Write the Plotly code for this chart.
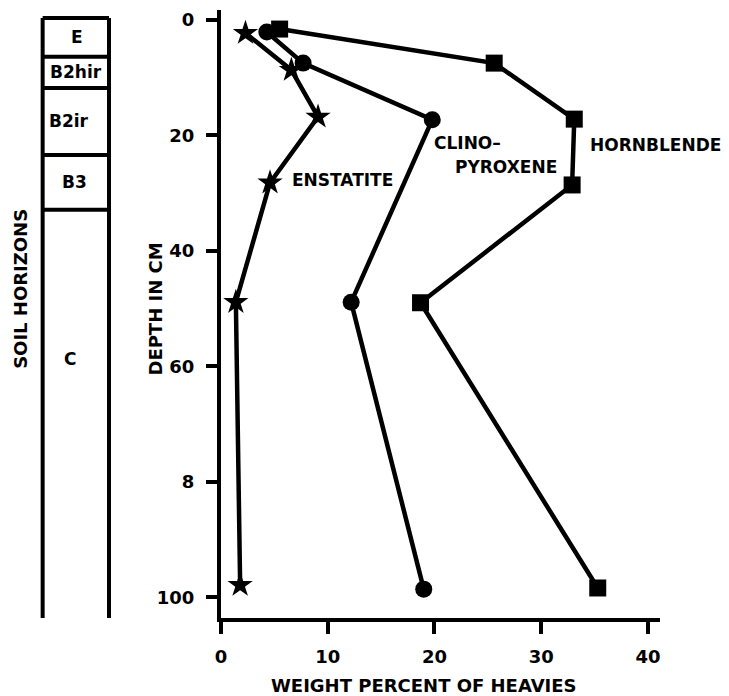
import plotly.graph_objects as go

# ---- data ----
enst_pct = [2.3, 6.6, 9.1, 4.6, 1.4, 1.8]
enst_depth = [2.3, 8.7, 16.8, 28.2, 48.9, 97.9]

clino_pct = [4.3, 7.7, 19.8, 12.2, 19.0]
clino_depth = [2.1, 7.5, 17.3, 48.9, 98.6]

horn_pct = [5.5, 25.6, 33.1, 32.9, 18.7, 35.3]
horn_depth = [1.6, 7.5, 17.2, 28.6, 49.0, 98.4]

x_ticks = [0, 10, 20, 30, 40]
y_ticks = [0, 20, 40, 60, 80, 100]
y_ticktext = ["0", "20", "40", "60", "8", "100"]

horizons = ["E", "B2hir", "B2ir", "B3", "C"]
horizon_top = [-0.3, 6.4, 11.8, 23.4, 32.9]
horizon_bottom = 104.0

FONT = "DejaVu Sans"
W, H = 729, 696
ML, MR, MT, MB = 0, 0, 10, 78
X_DOM = [217 / W, 660 / W]

fig = go.Figure()

line_w = 4.5
fig.add_trace(go.Scatter(
    x=horn_pct, y=horn_depth, mode="lines+markers", name="Hornblende",
    line=dict(color="black", width=line_w),
    marker=dict(symbol="square", size=17, color="black"),
    cliponaxis=False))
fig.add_trace(go.Scatter(
    x=clino_pct, y=clino_depth, mode="lines+markers", name="Clinopyroxene",
    line=dict(color="black", width=line_w),
    marker=dict(symbol="circle", size=17, color="black"),
    cliponaxis=False))
fig.add_trace(go.Scatter(
    x=enst_pct, y=enst_depth, mode="lines+markers", name="Enstatite",
    line=dict(color="black", width=line_w),
    marker=dict(symbol="star", size=19, color="black", line=dict(color="white", width=0)),
    cliponaxis=False))

fig.update_layout(
    width=W, height=H,
    margin=dict(l=ML, r=MR, t=MT, b=MB),
    paper_bgcolor="white", plot_bgcolor="white",
    showlegend=False,
    font=dict(family=FONT, size=18, color="black"),
    xaxis=dict(
        domain=X_DOM, range=[0, 41.1],
        tickvals=x_ticks, ticktext=[str(v) for v in x_ticks],
        ticks="outside", ticklen=12, tickwidth=4, tickcolor="black",
        showline=True, linewidth=4, linecolor="black",
        showgrid=False, zeroline=False,
        tickfont=dict(family=FONT, size=18, color="black", weight="bold"),
        ticklabelstandoff=7,
    ),
    yaxis=dict(
        range=[103.6, -1.7],
        tickvals=y_ticks, ticktext=y_ticktext,
        ticks="outside", ticklen=11, tickwidth=4, tickcolor="black",
        showline=True, linewidth=4, linecolor="black",
        showgrid=False, zeroline=False,
        tickfont=dict(family=FONT, size=18, color="black", weight="bold"),
        ticklabelstandoff=8,
    ),
)

bold = dict(family=FONT, size=18, color="black", weight="bold")
lab = dict(family=FONT, size=17, color="black", weight="bold")

# series labels
fig.add_annotation(x=6.5, y=27.7, text="ENSTATITE", showarrow=False,
                   xanchor="left", yanchor="middle", font=lab)
fig.add_annotation(x=19.8, y=21.3, text="CLINO–", showarrow=False,
                   xanchor="left", yanchor="middle", font=lab)
fig.add_annotation(x=31.7, y=25.5, text="PYROXENE", showarrow=False,
                   xanchor="right", yanchor="middle", font=lab)
fig.add_annotation(x=34.4, y=21.7, text="HORNBLENDE", showarrow=False,
                   xanchor="left", yanchor="middle", font=lab)

# axis titles
fig.add_annotation(xref="paper", yref="paper", x=422.5 / W, y=(618 - 685) / 608,
                   text="WEIGHT PERCENT OF HEAVIES", showarrow=False,
                   xanchor="center", yanchor="middle", font=bold)
fig.add_annotation(xref="paper", yref="paper", x=150 / W, y=(618 - 309) / 608,
                   text="DEPTH IN CM", showarrow=False, textangle=-90,
                   xanchor="center", yanchor="middle", font=bold)
fig.add_annotation(xref="paper", yref="paper", x=14 / W, y=(618 - 289) / 608,
                   text="SOIL HORIZONS", showarrow=False, textangle=-90,
                   xanchor="center", yanchor="middle", font=bold)

# soil horizon column
col_l, col_r = 37 / W, 104 / W
col_line = dict(color="black", width=4)
fig.add_shape(type="line", xref="paper", yref="y", x0=col_l, x1=col_l,
              y0=horizon_top[0], y1=horizon_bottom, line=col_line)
fig.add_shape(type="line", xref="paper", yref="y", x0=col_r, x1=col_r,
              y0=horizon_top[0], y1=horizon_bottom, line=col_line)
for t in horizon_top:
    fig.add_shape(type="line", xref="paper", yref="y", x0=col_l, x1=col_r,
                  y0=t, y1=t, line=col_line)

label_shift = {"E": 1.5, "B2hir": 0.5, "B2ir": -6.5, "B3": -1.5, "C": -5.5}
for i, name in enumerate(horizons):
    if i + 1 < len(horizon_top):
        mid = (horizon_top[i] + horizon_top[i + 1]) / 2
    else:
        mid = 58.8
    fig.add_annotation(xref="paper", yref="y", x=70.5 / W, y=mid, text=name,
                       showarrow=False, xanchor="center", yanchor="middle",
                       xshift=label_shift.get(name, 0), font=lab)

fig.write_html("out.html", config={"displayModeBar": False},
               post_script="document.body.style.margin='0';")
